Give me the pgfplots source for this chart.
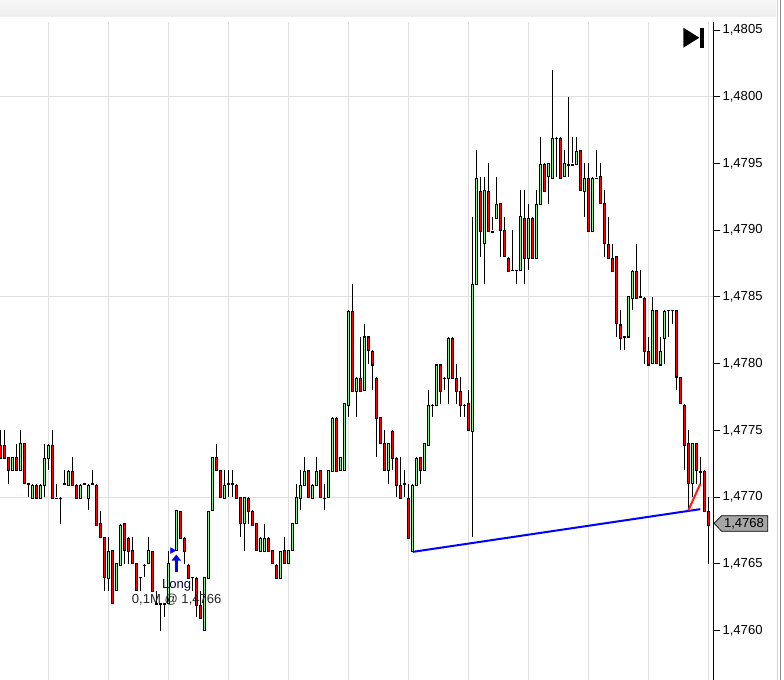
\documentclass[border=0pt]{standalone}
\usepackage{fontspec}
\setmainfont{Liberation Sans}
\usepackage{pgfplots}
\usepackage{pgfplotstable}
\pgfplotsset{compat=1.18}
\usetikzlibrary{arrows.meta}

\definecolor{gridgray}{HTML}{E0E0E0}
\definecolor{bullgreen}{HTML}{90EE90}

% 1 px of the reference = 0.75pt here
\pgfplotstableread{
k o h l c
0 1.4774 1.4775 1.4773 1.4773
1 1.4774 1.4775 1.4773 1.4773
2 1.4773 1.4773 1.4771 1.4772
3 1.4772 1.4773 1.4772 1.4773
4 1.4773 1.4774 1.4772 1.4772
5 1.4772 1.4775 1.4772 1.4774
6 1.4774 1.4774 1.4771 1.4771
7 1.4771 1.4771 1.4770 1.4771
8 1.4770 1.4771 1.4770 1.4771
9 1.4771 1.4771 1.4770 1.4770
10 1.4770 1.4771 1.4770 1.4771
11 1.4771 1.4774 1.4770 1.4773
12 1.4773 1.4774 1.4772 1.4774
13 1.4774 1.4775 1.4770 1.4770
14 1.4770 1.4771 1.4770 1.4770
15 1.4770 1.4770 1.4768 1.4770
16 1.4771 1.4772 1.4771 1.4771
17 1.4771 1.4772 1.4771 1.4772
18 1.4772 1.4773 1.4771 1.4771
19 1.4771 1.4771 1.4770 1.4770
20 1.4770 1.4771 1.4770 1.4771
21 1.4771 1.4771 1.4771 1.4771
22 1.4770 1.4771 1.4769 1.4771
23 1.4771 1.4772 1.4771 1.4771
24 1.4771 1.4771 1.4768 1.4768
25 1.4768 1.4769 1.4767 1.4767
26 1.4767 1.4767 1.4763 1.4764
27 1.4764 1.4767 1.4763 1.4766
28 1.4766 1.4766 1.4762 1.4762
29 1.4763 1.4765 1.4763 1.4765
30 1.4765 1.4768 1.4765 1.4768
31 1.4768 1.4768 1.4765 1.4766
32 1.4767 1.4767 1.4765 1.4766
33 1.4766 1.4767 1.4765 1.4765
34 1.4765 1.4765 1.4763 1.4763
35 1.4764 1.4764 1.4763 1.4764
36 1.4765 1.4765 1.4764 1.4765
37 1.4765 1.4767 1.4765 1.4766
38 1.4766 1.4766 1.4763 1.4763
39 1.4762 1.4763 1.4762 1.4762
40 1.4762 1.4762 1.4760 1.4762
41 1.4762 1.4762 1.4761 1.4762
42 1.4762 1.4766 1.4762 1.4765
43 1.4766 1.4766 1.4766 1.4766
44 1.4766 1.4769 1.4766 1.4769
45 1.4769 1.4769 1.4767 1.4767
46 1.4767 1.4767 1.4765 1.4766
47 1.4765 1.4765 1.4764 1.4764
48 1.4764 1.4764 1.4763 1.4764
49 1.4764 1.4764 1.4761 1.4762
50 1.4762 1.4763 1.4761 1.4761
51 1.4760 1.4764 1.4760 1.4764
52 1.4764 1.4769 1.4764 1.4769
53 1.4769 1.4773 1.4769 1.4773
54 1.4773 1.4774 1.4772 1.4772
55 1.4772 1.4772 1.4770 1.4770
56 1.4770 1.4772 1.4770 1.4771
57 1.4771 1.4772 1.4770 1.4771
58 1.4771 1.4772 1.4770 1.4771
59 1.4771 1.4771 1.4770 1.4770
60 1.4770 1.4770 1.4767 1.4768
61 1.4768 1.4770 1.4766 1.4770
62 1.4770 1.4770 1.4768 1.4769
63 1.4769 1.4769 1.4768 1.4768
64 1.4768 1.4768 1.4766 1.4766
65 1.4766 1.4767 1.4766 1.4767
66 1.4766 1.4768 1.4766 1.4767
67 1.4767 1.4767 1.4766 1.4766
68 1.4766 1.4766 1.4765 1.4765
69 1.4765 1.4765 1.4764 1.4764
70 1.4764 1.4766 1.4764 1.4766
71 1.4766 1.4767 1.4765 1.4765
72 1.4765 1.4766 1.4765 1.4766
73 1.4766 1.4768 1.4766 1.4768
74 1.4768 1.4771 1.4768 1.4770
75 1.4770 1.4772 1.4769 1.4771
76 1.4771 1.4773 1.4771 1.4772
77 1.4772 1.4772 1.4770 1.4770
78 1.4770 1.4771 1.4770 1.4771
79 1.4771 1.4773 1.4771 1.4772
80 1.4772 1.4772 1.4770 1.4770
81 1.4770 1.4771 1.4769 1.4770
82 1.4770 1.4772 1.4770 1.4772
83 1.4772 1.4776 1.4772 1.4776
84 1.4776 1.4776 1.4772 1.4772
85 1.4772 1.4773 1.4772 1.4773
86 1.4772 1.4777 1.4772 1.4777
87 1.4777 1.4784 1.4776 1.4784
88 1.4784 1.4786 1.4778 1.4778
89 1.4778 1.4779 1.4776 1.4779
90 1.4779 1.4782 1.4778 1.4778
91 1.4778 1.4783 1.4778 1.4782
92 1.4782 1.4782 1.4780 1.4781
93 1.4781 1.4781 1.4778 1.4780
94 1.4779 1.4779 1.4773 1.4776
95 1.4776 1.4776 1.4774 1.4774
96 1.4774 1.4775 1.4772 1.4772
97 1.4772 1.4774 1.4771 1.4774
98 1.4775 1.4775 1.4772 1.4773
99 1.4773 1.4773 1.4770 1.4771
100 1.4771 1.4773 1.4770 1.4770
101 1.4771 1.4772 1.4770 1.4771
102 1.4770 1.4771 1.4767 1.4767
103 1.4766 1.4771 1.4766 1.4771
104 1.4771 1.4773 1.4771 1.4773
105 1.4773 1.4773 1.4771 1.4772
106 1.4772 1.4774 1.4772 1.4774
107 1.4774 1.4778 1.4774 1.4777
108 1.4777 1.4777 1.4776 1.4777
109 1.4777 1.4780 1.4777 1.4780
110 1.4780 1.4780 1.4777 1.4778
111 1.4779 1.4779 1.4778 1.4779
112 1.4779 1.4782 1.4777 1.4782
113 1.4782 1.4782 1.4779 1.4779
114 1.4779 1.4780 1.4777 1.4778
115 1.4778 1.4779 1.4776 1.4777
116 1.4777 1.4777 1.4776 1.4777
117 1.4777 1.4778 1.4775 1.4775
118 1.4775 1.4791 1.4767 1.4786
119 1.4786 1.4796 1.4786 1.4794
120 1.4793 1.4794 1.4788 1.4790
121 1.4789 1.4794 1.4786 1.4793
122 1.4793 1.4795 1.4790 1.4790
123 1.4790 1.4791 1.4790 1.4790
124 1.4791 1.4794 1.4791 1.4792
125 1.4792 1.4792 1.4788 1.4790
126 1.4790 1.4791 1.4788 1.4788
127 1.4788 1.4788 1.4787 1.4787
128 1.4787 1.4790 1.4787 1.4787
129 1.4787 1.4787 1.4786 1.4787
130 1.4787 1.4793 1.4787 1.4791
131 1.4791 1.4793 1.4786 1.4788
132 1.4788 1.4792 1.4787 1.4791
133 1.4791 1.4791 1.4788 1.4788
134 1.4788 1.4793 1.4788 1.4792
135 1.4792 1.4797 1.4792 1.4795
136 1.4795 1.4795 1.4793 1.4793
137 1.4794 1.4795 1.4792 1.4795
138 1.4794 1.4802 1.4794 1.4797
139 1.4797 1.4797 1.4794 1.4797
140 1.4797 1.4797 1.4794 1.4794
141 1.4794 1.4796 1.4794 1.4795
142 1.4795 1.4800 1.4794 1.4795
143 1.4795 1.4797 1.4795 1.4795
144 1.4795 1.4797 1.4795 1.4796
145 1.4796 1.4796 1.4793 1.4793
146 1.4793 1.4795 1.4791 1.4794
147 1.4794 1.4795 1.4790 1.4790
148 1.4790 1.4794 1.4790 1.4794
149 1.4794 1.4796 1.4794 1.4794
150 1.4794 1.4795 1.4792 1.4792
151 1.4792 1.4793 1.4788 1.4789
152 1.4789 1.4791 1.4788 1.4788
153 1.4788 1.4789 1.4787 1.4787
154 1.4788 1.4788 1.4782 1.4783
155 1.4783 1.4784 1.4781 1.4782
156 1.4782 1.4782 1.4781 1.4782
157 1.4782 1.4785 1.4782 1.4785
158 1.4785 1.4787 1.4784 1.4787
159 1.4787 1.4789 1.4785 1.4785
160 1.4785 1.4787 1.4785 1.4785
161 1.4785 1.4785 1.4780 1.4781
162 1.4781 1.4782 1.4780 1.4780
163 1.4780 1.4785 1.4780 1.4784
164 1.4784 1.4784 1.4780 1.4780
165 1.4780 1.4782 1.4780 1.4781
166 1.4782 1.4784 1.4780 1.4784
167 1.4784 1.4784 1.4782 1.4784
168 1.4784 1.4784 1.4783 1.4784
169 1.4784 1.4784 1.4778 1.4779
170 1.4779 1.4779 1.4777 1.4777
171 1.4777 1.4777 1.4772 1.4774
172 1.4774 1.4775 1.4769 1.4771
173 1.4771 1.4774 1.4770 1.4774
174 1.4774 1.4774 1.4771 1.4772
175 1.4772 1.4773 1.4771 1.4772
176 1.4772 1.4772 1.4769 1.4769
177 1.4769 1.4770 1.4765 1.4768
}\candles

\begin{document}
\begin{tikzpicture}
\useasboundingbox (0,0) rectangle (588pt,510pt);
% window furniture, in reference pixels
\begin{scope}[yshift=510pt,x=0.75pt,y=-0.75pt]
\shade[top color=white!97!black,bottom color=white!93!black] (0,0) rectangle (776,17);
\fill[black!18] (776.5,0) rectangle (778,680);
\fill[black!45] (780,0) rectangle (781,680);
\fill[black] (683.3,27.7) -- (699.3,37.7) -- (683.3,47.7) -- cycle;
\fill[black] (700,27.7) rectangle (704,47.7);
\end{scope}

\begin{axis}[
    at={(0pt,0pt)},
    anchor=south west,
    scale only axis,
    width=534.975pt,
    height=493.5pt,
    xmin=-0.075,
    xmax=178.25,
    ymin=1.47563,
    ymax=1.48056,
    axis y line=right,
    axis x line=bottom,
    axis line style={-,line width=0.75pt},
    x axis line style={draw=none},
    xtick={12,27,42,57,72,87,102,117,132,147,162,177},
    xticklabels={},
    x tick style={draw=none},
    xmajorgrids,
    major grid style={gridgray,line width=0.75pt},
    ytick={1.476,1.4765,1.477,1.4775,1.478,1.4785,1.479,1.4795,1.48,1.4805},
    extra y ticks={1.477,1.4785,1.48},
    extra y tick labels={},
    extra y tick style={ymajorgrids,y tick style={draw=none}},
    scaled y ticks=false,
    tick align=outside,
    major tick length=5.25pt,
    y tick style={black,line width=0.75pt},
    yticklabel style={font=\fontsize{9.8}{11}\selectfont,inner sep=0pt,xshift=1.5pt,
        /pgf/number format/.cd,fixed,fixed zerofill,precision=4,use comma,assume math mode=true},
    clip=false,
]
% wicks
\addplot[draw=none,mark=none,error bars/.cd,y dir=plus,y explicit,error mark=none,
    error bar style={black,line width=0.75pt}]
    table[x=k,y=l,y error plus expr=\thisrow{h}-\thisrow{l}] {\candles};
% body outlines
\addplot[draw=none,mark=none,error bars/.cd,y dir=both,y explicit,error mark=none,
    error bar style={black,line width=2.5pt}]
    table[x=k,y expr=(\thisrow{o}+\thisrow{c})/2,
          y error expr=abs(\thisrow{c}-\thisrow{o})/2+0.000004] {\candles};
% body fills, zero length where the candle has the other direction
\addplot[draw=none,mark=none,error bars/.cd,y dir=both,y explicit,error mark=none,
    error bar style={bullgreen,line width=1.1pt}]
    table[x=k,y expr=(\thisrow{o}+\thisrow{c})/2,
          y error expr=\thisrow{c}>\thisrow{o} ? abs(\thisrow{c}-\thisrow{o})/2-0.000004 : 0] {\candles};
\addplot[draw=none,mark=none,error bars/.cd,y dir=both,y explicit,error mark=none,
    error bar style={red,line width=1.1pt}]
    table[x=k,y expr=(\thisrow{o}+\thisrow{c})/2,
          y error expr=\thisrow{c}<\thisrow{o} ? abs(\thisrow{c}-\thisrow{o})/2-0.000004 : 0] {\candles};
% trend lines
\addplot[blue,line width=1.5pt,mark=none] coordinates {(103.1,1.47659) (175,1.47691)};
\addplot[red!90!white,line width=1.5pt,mark=none] coordinates {(172,1.47690) (175,1.47710)};
% entry marker
\addplot[blue,only marks,mark=triangle*,mark size=2.4pt,mark options={rotate=-90,blue}]
    coordinates {(43,1.47660)};
\addplot[blue,line width=2pt,mark=none,-{Triangle[width=6.8pt,length=4.5pt]}]
    coordinates {(44,1.47644) (44,1.47657)};
\node[font=\fontsize{9.8}{11}\selectfont,text=black!75!blue,inner sep=0pt] at (axis cs:44.1,1.47634) {Long};
\node[font=\fontsize{9.8}{11}\selectfont,text=black!85,inner sep=0pt] at (axis cs:44.1,1.47623) {0,1M @ 1,4766};
\end{axis}

% last price tag
\begin{scope}[yshift=510pt,x=0.75pt,y=-0.75pt]
\draw[black,line width=0.5pt,fill=black!35] (714,523.3) -- (721.7,515.7) -- (767.7,515.7)
    -- (767.7,531.3) -- (721.7,531.3) -- cycle;
\node[font=\fontsize{9.8}{11}\selectfont,inner sep=0pt] at (744,523.3) {1,4768};
\end{scope}
\end{tikzpicture}
\end{document}
